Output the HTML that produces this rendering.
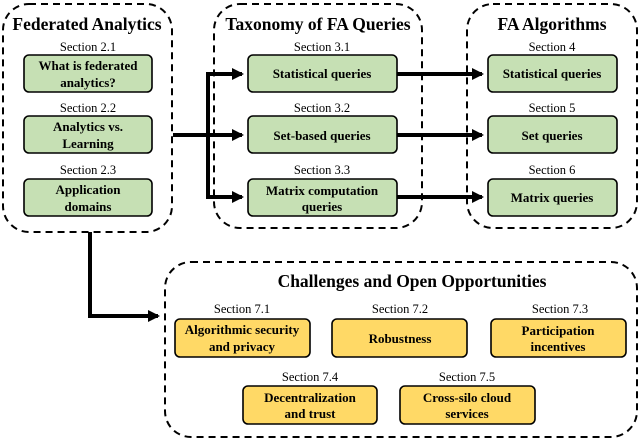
<!DOCTYPE html>
<html><head><meta charset="utf-8"><style>
html,body{margin:0;padding:0;background:#fff;}
svg{display:block;}
text{font-family:"Liberation Serif","DejaVu Serif",serif;text-anchor:middle;fill:#000;}
.t{font-size:17.5px;font-weight:bold;}
.s{font-size:12.5px;}
.b{font-size:13px;font-weight:bold;}
.c{fill:none;stroke:#000;stroke-width:2;stroke-dasharray:7,5;}
.g{fill:#c6e0b4;stroke:#000;stroke-width:1.6;}
.y{fill:#ffd966;stroke:#000;stroke-width:1.6;}
.l{stroke:#000;stroke-width:4;fill:none;}
</style></head><body>
<svg width="640" height="441" viewBox="0 0 640 441" xmlns="http://www.w3.org/2000/svg" font-family="Liberation Serif, DejaVu Serif, serif">
<defs><marker id="a" markerWidth="4" markerHeight="4" refX="2.5" refY="2" orient="auto" markerUnits="strokeWidth"><path d="M0,0.5 L3,2 L0,3.5 z" fill="#000"/></marker></defs>
<rect class="c" x="3" y="4" width="169" height="228" rx="26"/>
<rect class="c" x="214" y="4" width="208" height="224" rx="26"/>
<rect class="c" x="467" y="4" width="170" height="224" rx="26"/>
<rect class="c" x="165" y="262" width="472" height="175" rx="26"/>
<path class="l" d="M173,135 H208 M208,72 V199"/>
<path class="l" d="M208,74 H242" marker-end="url(#a)"/>
<path class="l" d="M208,135 H242" marker-end="url(#a)"/>
<path class="l" d="M208,197 H242" marker-end="url(#a)"/>
<path class="l" d="M397,74 H482" marker-end="url(#a)"/>
<path class="l" d="M397,135 H482" marker-end="url(#a)"/>
<path class="l" d="M397,197 H482" marker-end="url(#a)"/>
<path class="l" d="M90,232 V316 H158" marker-end="url(#a)"/>
<text class="t" x="87" y="30" font-family="Liberation Serif, serif">Federated Analytics</text>
<text class="t" x="318" y="30" font-family="Liberation Serif, serif">Taxonomy of FA Queries</text>
<text class="t" x="552" y="30" font-family="Liberation Serif, serif">FA Algorithms</text>
<text class="t" x="412" y="287" font-family="Liberation Serif, serif">Challenges and Open Opportunities</text>
<g font-family="Liberation Serif, serif">
<text class="s" x="88" y="51">Section 2.1</text>
<rect class="g" x="24" y="55" width="128" height="37" rx="5"/>
<text class="b" x="88" y="70">What is federated</text><text class="b" x="88" y="87">analytics?</text>
<text class="s" x="88" y="112">Section 2.2</text>
<rect class="g" x="24" y="116" width="128" height="37" rx="5"/>
<text class="b" x="88" y="131">Analytics vs.</text><text class="b" x="88" y="148">Learning</text>
<text class="s" x="88" y="174">Section 2.3</text>
<rect class="g" x="24" y="179" width="128" height="37" rx="5"/>
<text class="b" x="88" y="194">Application</text><text class="b" x="88" y="211">domains</text>
<text class="s" x="322" y="51">Section 3.1</text>
<rect class="g" x="248" y="55" width="149" height="37" rx="5"/>
<text class="b" x="322" y="78">Statistical queries</text>
<text class="s" x="322" y="112">Section 3.2</text>
<rect class="g" x="248" y="116" width="149" height="37" rx="5"/>
<text class="b" x="322" y="140">Set-based queries</text>
<text class="s" x="322" y="174">Section 3.3</text>
<rect class="g" x="248" y="179" width="149" height="37" rx="5"/>
<text class="b" x="322" y="195">Matrix computation</text><text class="b" x="322" y="211">queries</text>
<text class="s" x="552" y="51">Section 4</text>
<rect class="g" x="488" y="55" width="129" height="37" rx="5"/>
<text class="b" x="552" y="78">Statistical queries</text>
<text class="s" x="552" y="112">Section 5</text>
<rect class="g" x="488" y="116" width="129" height="37" rx="5"/>
<text class="b" x="552" y="140">Set queries</text>
<text class="s" x="552" y="174">Section 6</text>
<rect class="g" x="488" y="179" width="129" height="37" rx="5"/>
<text class="b" x="552" y="202">Matrix queries</text>
<text class="s" x="242" y="313">Section 7.1</text>
<rect class="y" x="175" y="319" width="135" height="38" rx="5"/>
<text class="b" x="242" y="334">Algorithmic security</text><text class="b" x="242" y="351">and privacy</text>
<text class="s" x="400" y="313">Section 7.2</text>
<rect class="y" x="332" y="319" width="135" height="38" rx="5"/>
<text class="b" x="400" y="343">Robustness</text>
<text class="s" x="560" y="313">Section 7.3</text>
<rect class="y" x="491" y="319" width="135" height="38" rx="5"/>
<text class="b" x="558" y="335">Participation</text><text class="b" x="558" y="351">incentives</text>
<text class="s" x="310" y="381">Section 7.4</text>
<rect class="y" x="243" y="386" width="134" height="38" rx="5"/>
<text class="b" x="310" y="402">Decentralization</text><text class="b" x="310" y="418">and trust</text>
<text class="s" x="467" y="381">Section 7.5</text>
<rect class="y" x="400" y="386" width="135" height="38" rx="5"/>
<text class="b" x="467" y="402">Cross-silo cloud</text><text class="b" x="467" y="418">services</text>
</g>
</svg>
</body></html>
